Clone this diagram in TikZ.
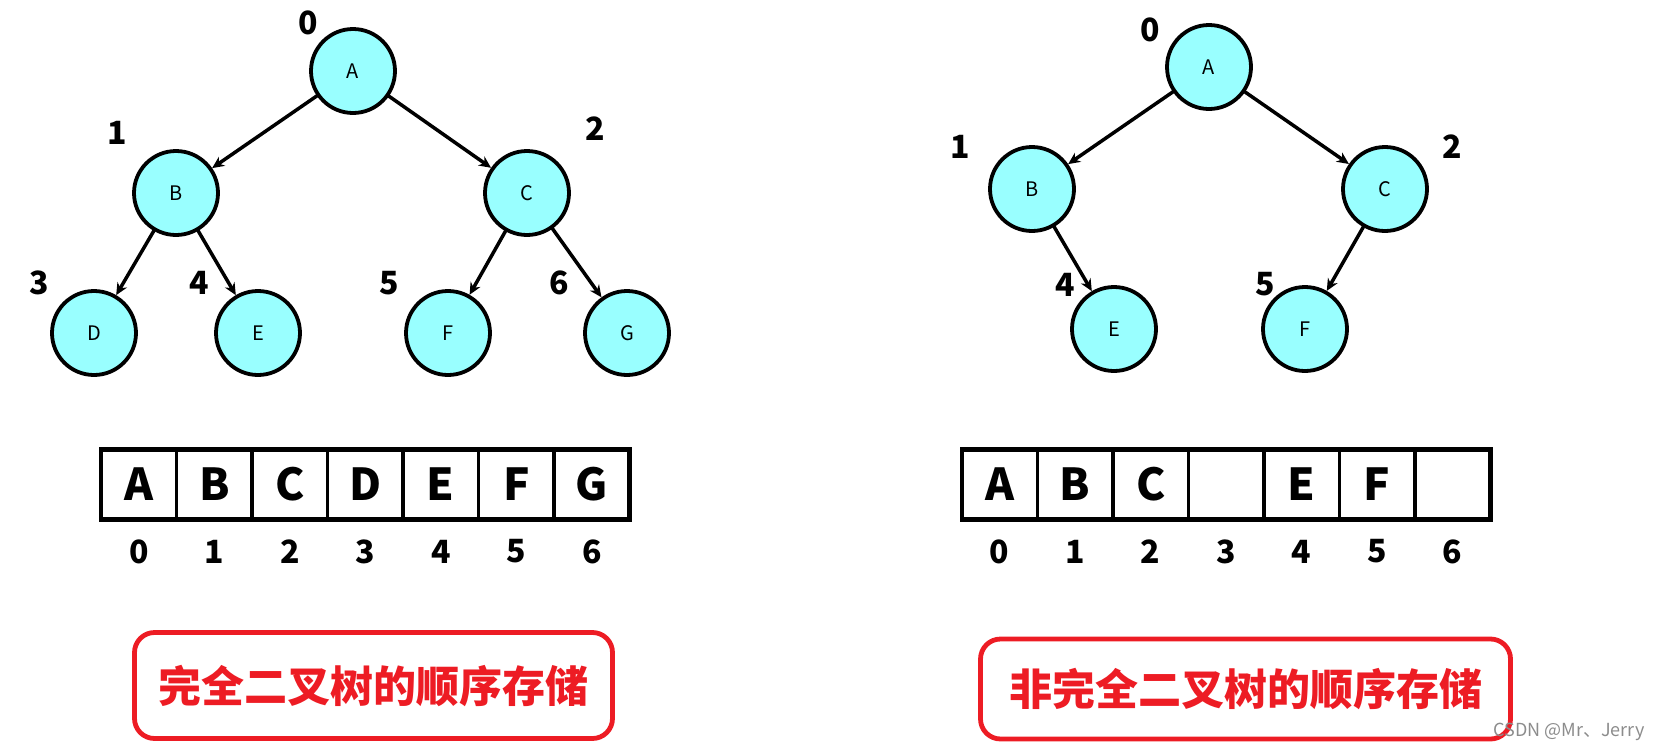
\documentclass[tikz,border=0pt]{standalone}
\usepackage{fontspec}
\setmainfont{Noto Sans CJK SC}
\usepackage{tikz}
\usetikzlibrary{positioning, arrows.meta}

\begin{document}
\begin{tikzpicture}[
    x=1pt, y=-1pt,
    every path/.style={line cap=round},
]
% ── Colours ──
\definecolor{nodecyan}{HTML}{99FFFF}
\definecolor{titlered}{HTML}{ED1C24}

% ── Styles ──
\tikzset{
    tnode/.style={
        circle, draw, line width=3.8pt, fill=nodecyan,
        minimum size=84pt, inner sep=0pt,
        font=\fontsize{20}{24}\selectfont,
    },
    edge/.style={-{Stealth[length=12pt,width=11pt]}, line width=3.5pt},
    tidx/.style={font=\fontsize{32}{36}\selectfont\bfseries, inner sep=0pt},
    cell/.style={
        draw, line width=3.2pt, rectangle,
        minimum width=75.5pt, minimum height=70pt,
        inner sep=0pt, outer sep=0pt,
        font=\fontsize{44}{50}\selectfont\bfseries,
    },
    frame/.style={line width=4.8pt},
    aidx/.style={font=\fontsize{32}{36}\selectfont\bfseries, inner sep=0pt},
    titlebox/.style={
        draw=titlered, line width=4.8pt, rounded corners=20pt,
        text=titlered, font=\fontsize{43}{50}\selectfont\bfseries,
    },
}

\useasboundingbox (0,0) rectangle (1665,753);

% ── Complete tree ──
\node[tnode] (lA) at (353,71) {A};
\node[tnode] (lB) at (176,193) {B};
\node[tnode] (lC) at (527,193) {C};
\node[tnode] (lD) at (94,333) {D};
\node[tnode] (lE) at (258,333) {E};
\node[tnode] (lF) at (448,333) {F};
\node[tnode] (lG) at (627,333) {G};

\draw[edge] (lA) -- (lB);
\draw[edge] (lA) -- (lC);
\draw[edge] (lB) -- (lD);
\draw[edge] (lB) -- (lE);
\draw[edge] (lC) -- (lF);
\draw[edge] (lC) -- (lG);

% index labels
\node[tidx] (li0) at (308,23) {0};
\node[tidx] (li1) at (117,133) {1};
\node[tidx] (li2) at (595,129) {2};
\node[tidx] (li3) at (39,283) {3};
\node[tidx] (li4) at (199,283) {4};
\node[tidx] (li5) at (389,283) {5};
\node[tidx] (li6) at (559,283) {6};

% ── Incomplete tree ──
\node[tnode] (rA) at (1209,67) {A};
\node[tnode] (rB) at (1032,189) {B};
\node[tnode] (rC) at (1385,189) {C};
\node[tnode] (rE) at (1114,329) {E};
\node[tnode] (rF) at (1305,329) {F};

\draw[edge] (rA) -- (rB);
\draw[edge] (rA) -- (rC);
\draw[edge] (rB) -- (rE);
\draw[edge] (rC) -- (rF);

\node[tidx] (ri0) at (1150,30) {0};
\node[tidx] (ri1) at (960,147) {1};
\node[tidx] (ri2) at (1452,147) {2};
\node[tidx] (ri4) at (1065,285) {4};
\node[tidx] (ri5) at (1265,284) {5};

% ── Left array ──
\node[cell] (la0) at (138.8,484.5) {A};
\node[cell, right=0pt of la0] (la1) {B};
\node[cell, right=0pt of la1] (la2) {C};
\node[cell, right=0pt of la2] (la3) {D};
\node[cell, right=0pt of la3] (la4) {E};
\node[cell, right=0pt of la4] (la5) {F};
\node[cell, right=0pt of la5] (la6) {G};
\draw[frame] (la0.north west) rectangle (la6.south east);

\node[aidx] (lx0) at ([yshift=-32pt]la0.south) {0};
\node[aidx] (lx1) at ([yshift=-32pt]la1.south) {1};
\node[aidx] (lx2) at ([yshift=-32pt]la2.south) {2};
\node[aidx] (lx3) at ([yshift=-32pt]la3.south) {3};
\node[aidx] (lx4) at ([yshift=-32pt]la4.south) {4};
\node[aidx] (lx5) at ([yshift=-32pt]la5.south) {5};
\node[aidx] (lx6) at ([yshift=-32pt]la6.south) {6};

% ── Right array ──
\node[cell] (ra0) at (999.7,484.5) {A};
\node[cell, right=0pt of ra0] (ra1) {B};
\node[cell, right=0pt of ra1] (ra2) {C};
\node[cell, right=0pt of ra2] (ra3) {};
\node[cell, right=0pt of ra3] (ra4) {E};
\node[cell, right=0pt of ra4] (ra5) {F};
\node[cell, right=0pt of ra5] (ra6) {};
\draw[frame] (ra0.north west) rectangle (ra6.south east);

\node[aidx] (rx0) at ([yshift=-32pt]ra0.south) {0};
\node[aidx] (rx1) at ([yshift=-32pt]ra1.south) {1};
\node[aidx] (rx2) at ([yshift=-32pt]ra2.south) {2};
\node[aidx] (rx3) at ([yshift=-32pt]ra3.south) {3};
\node[aidx] (rx4) at ([yshift=-32pt]ra4.south) {4};
\node[aidx] (rx5) at ([yshift=-32pt]ra5.south) {5};
\node[aidx] (rx6) at ([yshift=-32pt]ra6.south) {6};

% ── Titles ──
\node[titlebox, minimum width=478pt, minimum height=106pt] (ltitle)
    at (373.5,685.5) {完全二叉树的顺序存储};
\node[titlebox, minimum width=530pt, minimum height=100pt] (rtitle)
    at (1245.5,689) {非完全二叉树的顺序存储};

% watermark
\node[font=\fontsize{18}{20}\selectfont, text=black!45] (mark)
    at (1569,732) {CSDN @Mr、Jerry};

\end{tikzpicture}
\end{document}
